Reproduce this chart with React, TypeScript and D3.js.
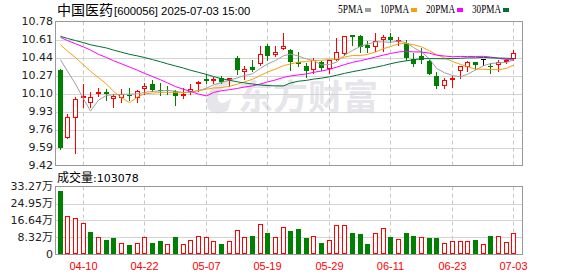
import React from 'react';
import * as d3 from 'd3';

const dates = [
  '04-07','04-08','04-09','04-10','04-11','04-14','04-15','04-16','04-17','04-18',
  '04-21','04-22','04-23','04-24','04-25','04-28','04-29','04-30',
  '05-06','05-07','05-08','05-09','05-12','05-13','05-14','05-15','05-16','05-19',
  '05-20','05-21','05-22','05-23','05-26','05-27','05-28','05-29','05-30',
  '06-03','06-04','06-05','06-06','06-09','06-10','06-11','06-12','06-13','06-16',
  '06-17','06-18','06-19','06-20','06-23','06-24','06-25','06-26','06-27','06-30',
  '07-01','07-02','07-03'
];

const opens = [10.32,9.68,9.87,10.07,10.01,10.10,10.11,10.05,10.06,10.09,10.06,10.14,10.19,10.13,10.13,10.12,10.08,10.11,10.20,10.24,10.23,10.25,10.23,10.44,10.30,10.35,10.38,10.55,10.46,10.52,10.51,10.40,10.36,10.32,10.40,10.33,10.42,10.47,10.65,10.64,10.56,10.54,10.61,10.63,10.60,10.58,10.43,10.45,10.41,10.27,10.17,10.24,10.31,10.35,10.40,10.43,10.36,10.37,10.40,10.43];
const highs = [10.33,9.91,10.07,10.19,10.11,10.15,10.14,10.10,10.14,10.15,10.13,10.20,10.23,10.20,10.17,10.13,10.15,10.19,10.22,10.28,10.26,10.27,10.25,10.45,10.36,10.42,10.55,10.57,10.55,10.67,10.52,10.49,10.39,10.44,10.41,10.42,10.62,10.64,10.65,10.65,10.60,10.67,10.65,10.67,10.63,10.61,10.48,10.53,10.42,10.30,10.25,10.27,10.36,10.41,10.40,10.43,10.39,10.42,10.43,10.51];
const lows = [9.58,9.68,9.54,9.97,9.97,10.08,10.04,9.97,10.02,10.04,10.02,10.10,10.12,10.09,10.10,9.99,10.06,10.10,10.12,10.20,10.20,10.20,10.17,10.28,10.24,10.31,10.37,10.42,10.45,10.52,10.32,10.36,10.26,10.29,10.32,10.29,10.42,10.46,10.56,10.49,10.49,10.50,10.50,10.59,10.56,10.42,10.36,10.39,10.28,10.15,10.15,10.16,10.25,10.31,10.33,10.37,10.29,10.31,10.39,10.42];
const closes = [9.59,9.88,10.05,10.08,10.07,10.11,10.10,10.08,10.10,10.08,10.12,10.17,10.13,10.12,10.12,10.08,10.10,10.14,10.21,10.22,10.24,10.21,10.25,10.32,10.33,10.32,10.47,10.45,10.49,10.55,10.40,10.38,10.31,10.42,10.34,10.42,10.49,10.64,10.63,10.54,10.53,10.60,10.63,10.61,10.61,10.44,10.38,10.42,10.28,10.17,10.23,10.25,10.36,10.40,10.37,10.43,10.35,10.40,10.42,10.48];

const volumes = [308400,189700,177000,152700,109000,84600,71500,81200,55400,47200,55400,84600,56900,66600,50600,86100,50600,70000,89500,84600,65200,52000,65200,118700,84600,91000,147900,105500,84600,133300,115300,125000,81200,89500,56900,70000,143000,143000,105500,100700,52000,104100,128400,86100,74900,105500,91000,86100,81200,81200,55400,65200,65200,65200,71500,50600,91000,89500,60300,103078];

const ma5 = [10.42,10.31,10.19,10.05,9.934,10.038,10.082,10.088,10.092,10.094,10.096,10.11,10.12,10.124,10.13,10.122,10.108,10.11,10.128,10.15,10.182,10.204,10.226,10.248,10.27,10.286,10.338,10.378,10.412,10.456,10.472,10.454,10.426,10.412,10.37,10.374,10.396,10.462,10.506,10.546,10.566,10.588,10.588,10.582,10.596,10.578,10.534,10.492,10.426,10.338,10.296,10.27,10.258,10.282,10.322,10.362,10.382,10.39,10.394,10.416];
const ma10 = [10.56,10.50,10.44,10.37,10.31,10.25,10.19,10.12,10.06,10.014,10.067,10.096,10.104,10.108,10.112,10.109,10.109,10.115,10.126,10.14,10.152,10.156,10.168,10.188,10.21,10.234,10.271,10.302,10.33,10.363,10.379,10.396,10.402,10.412,10.413,10.423,10.425,10.444,10.459,10.458,10.47,10.492,10.524,10.543,10.57,10.572,10.561,10.54,10.504,10.467,10.437,10.402,10.375,10.354,10.33,10.329,10.326,10.324,10.338,10.369];
const ma20 = [10.63,10.60,10.57,10.54,10.51,10.47,10.44,10.41,10.38,10.35,10.32,10.29,10.26,10.23,10.20,10.165,10.14,10.12,10.095,10.077,10.11,10.126,10.136,10.148,10.161,10.172,10.19,10.209,10.228,10.252,10.266,10.276,10.285,10.30,10.312,10.329,10.348,10.373,10.394,10.41,10.425,10.444,10.463,10.478,10.492,10.498,10.493,10.492,10.481,10.462,10.454,10.447,10.45,10.449,10.45,10.451,10.444,10.432,10.421,10.418];
const ma30 = [10.64,10.62,10.60,10.58,10.56,10.545,10.53,10.51,10.49,10.47,10.455,10.44,10.42,10.40,10.38,10.36,10.34,10.32,10.30,10.28,10.26,10.24,10.225,10.21,10.20,10.19,10.18,10.175,10.172,10.172,10.199,10.216,10.224,10.236,10.245,10.258,10.272,10.29,10.306,10.32,10.333,10.348,10.364,10.381,10.397,10.409,10.419,10.428,10.43,10.429,10.428,10.43,10.433,10.436,10.437,10.441,10.437,10.435,10.433,10.431];

const priceTicks = [9.42, 9.59, 9.76, 9.93, 10.10, 10.27, 10.44, 10.61, 10.78];
const volTicks = [0, 83200, 166400, 249500, 332700];
const volTickLabels = ['0', '8.32万', '16.64万', '24.95万', '33.27万'];
const dateLabels = ['04-10', '04-22', '05-07', '05-19', '05-29', '06-11', '06-23', '07-03'];

const legendNames = ['5PMA', '10PMA', '20PMA', '30PMA'];

const RED = '#ff0000';
const GREEN = '#008000';
const MA_COLORS = ['#a0a0a0', '#f4a10c', '#ff00ff', '#006f33'];

export default function App() {
  const W = 578, H = 276;
  const left = 55.5, right = 522.5, pTop = 21.5, pBot = 165.5, vTop = 186.5, vBot = 254.5;

  const x = d3.scaleBand<string>().domain(dates).range([56.3, 517.7]);
  const cx = (i: number) => Math.floor((x(dates[i]) as number) + x.bandwidth() / 2);
  const y = d3.scaleLinear().domain([9.42, 10.78]).range([pBot, pTop]);
  const yv = d3.scaleLinear().domain([0, 332700]).range([vBot, vTop]);

  const line = d3.line<number>().x((_, i) => cx(i) + 0.5).y(v => y(v));
  const mas = [ma5, ma10, ma20, ma30];

  const gridColor = '#d4d4d4';
  const borderColor = '#999999';
  const axisFont = '"DejaVu Sans", "Noto Sans CJK SC", sans-serif';

  return (
    <svg width={W} height={H} style={{ position: 'absolute', left: 0, top: 0, background: '#fff' }}
      xmlns="http://www.w3.org/2000/svg">
      <rect x={0} y={0} width={W} height={H} fill="#fff" />

      {/* watermark */}
      <g fill="#e5e5ea">
        <path d="M224,80 C210,84 203,99 209,110 C213,115 223,114 228,110 L231,98 C227,103 220,105 218,100 C216,93 223,86 234,82 Z" />
        <text x={238} y={110} fontSize={35} fontWeight="bold" fontFamily='"Noto Sans CJK SC", sans-serif'>东方财富</text>
      </g>

      {/* price grid */}
      {priceTicks.slice(1, -1).map(t => (
        <line key={'pg' + t} x1={left} x2={right} y1={Math.round(y(t)) + 0.5} y2={Math.round(y(t)) + 0.5} stroke={gridColor} />
      ))}
      {volTicks.slice(1, -1).map(t => (
        <line key={'vg' + t} x1={left} x2={right} y1={Math.round(yv(t)) + 0.5} y2={Math.round(yv(t)) + 0.5} stroke={gridColor} />
      ))}
      {dateLabels.map(d => {
        const i = dates.indexOf(d);
        const xx = cx(i) + 0.5;
        return (
          <g key={'vl' + d}>
            <line x1={xx} x2={xx} y1={pTop} y2={pBot} stroke="#c8c8c8" strokeDasharray="4,3" />
            <line x1={xx} x2={xx} y1={vTop} y2={vBot} stroke="#c8c8c8" strokeDasharray="4,3" />
          </g>
        );
      })}

      {/* borders */}
      <rect x={left} y={pTop} width={right - left} height={pBot - pTop} fill="none" stroke={borderColor} />
      <rect x={left} y={vTop} width={right - left} height={vBot - vTop} fill="none" stroke={borderColor} />

      {/* candles */}
      {dates.map((d, i) => {
        const o = opens[i], c = closes[i], h = highs[i], l = lows[i];
        const xc = cx(i);
        const color = c > o ? RED : c < o ? GREEN : '#000';
        const top = Math.round(y(Math.max(o, c)));
        const bot = Math.round(y(Math.min(o, c)));
        const wick = <line x1={xc + 0.5} x2={xc + 0.5} y1={Math.round(y(h))} y2={Math.round(y(l)) + 1} stroke={color} />;
        let body;
        if (c > o) {
          body = bot - top >= 2
            ? <rect x={xc - 1.5} y={top + 0.5} width={4} height={bot - top - 1} fill="#fff" stroke={RED} />
            : <rect x={xc - 2} y={top} width={5} height={Math.max(bot - top, 1) + 1} fill={RED} />;
        } else if (c < o) {
          body = <rect x={xc - 2} y={top} width={5} height={Math.max(bot - top, 1)} fill={GREEN} />;
        } else {
          body = <line x1={xc - 2} x2={xc + 3} y1={top + 0.5} y2={top + 0.5} stroke="#000" />;
        }
        return <g key={'c' + d}>{wick}{body}</g>;
      })}

      {/* moving averages */}
      {mas.map((m, k) => (
        <path key={'ma' + k} d={line(m) || ''} fill="none" stroke={MA_COLORS[k]} strokeWidth={1} />
      ))}

      {/* volume bars */}
      {dates.map((d, i) => {
        const up = i === 0 ? closes[i] >= opens[i] : closes[i] >= closes[i - 1];
        const xc = cx(i);
        const top = Math.round(yv(volumes[i]));
        const base = Math.floor(vBot);
        return up
          ? <rect key={'v' + d} x={xc - 1.5} y={top + 0.5} width={4} height={base - top - 1} fill="#fff" stroke={RED} />
          : <rect key={'v' + d} x={xc - 2} y={top} width={5} height={base - top} fill={GREEN} />;
      })}

      {/* price axis labels */}
      {priceTicks.map(t => (
        <text key={'pl' + t} x={53} y={y(t)} dy="0.36em" textAnchor="end" fontSize={11} fontFamily={axisFont} fill="#222">
          {t.toFixed(2)}
        </text>
      ))}
      {/* volume axis labels */}
      {volTicks.map((t, k) => (
        <text key={'vt' + t} x={53} y={yv(t)} dy="0.36em" textAnchor="end" fontSize={11} fontFamily={axisFont} fill="#222">
          {volTickLabels[k]}
        </text>
      ))}
      {/* date labels */}
      {dateLabels.map(d => (
        <text key={'dl' + d} x={cx(dates.indexOf(d)) + 0.5} y={270} textAnchor="middle" fontSize={11}
          fontFamily='"Liberation Sans", Arial, sans-serif' fill={RED}>{d}</text>
      ))}

      {/* title */}
      <text x={57} y={15} fill="#000" fontSize={14} fontFamily='"Noto Sans CJK SC", sans-serif'>中国医药</text>
      <text x={114} y={15} fill="#000" fontSize={11.3} fontFamily='"Liberation Sans", Arial, sans-serif'>[600056] 2025-07-03 15:00</text>

      {/* legend */}
      {legendNames.map((n, k) => {
        const xs = [338, 380, 426, 472][k];
        const w = n.length === 4 ? 25 : 29;
        return (
          <g key={'lg' + n}>
            <text x={xs} y={13} fontSize={12} fontFamily='"Liberation Serif", serif' fill="#000"
              textLength={w} lengthAdjust="spacingAndGlyphs">{n}</text>
            <rect x={xs + w + 2} y={8} width={6} height={4} fill={MA_COLORS[k]} />
          </g>
        );
      })}

      {/* volume title */}
      <text x={57} y={182} fill="#000" fontSize={12} fontFamily='"Noto Sans CJK SC", sans-serif'>成交量</text>
      <text x={93} y={182} fill="#000" fontSize={11} fontFamily='"DejaVu Sans", sans-serif'>:{volumes[volumes.length - 1]}</text>
    </svg>
  );
}
